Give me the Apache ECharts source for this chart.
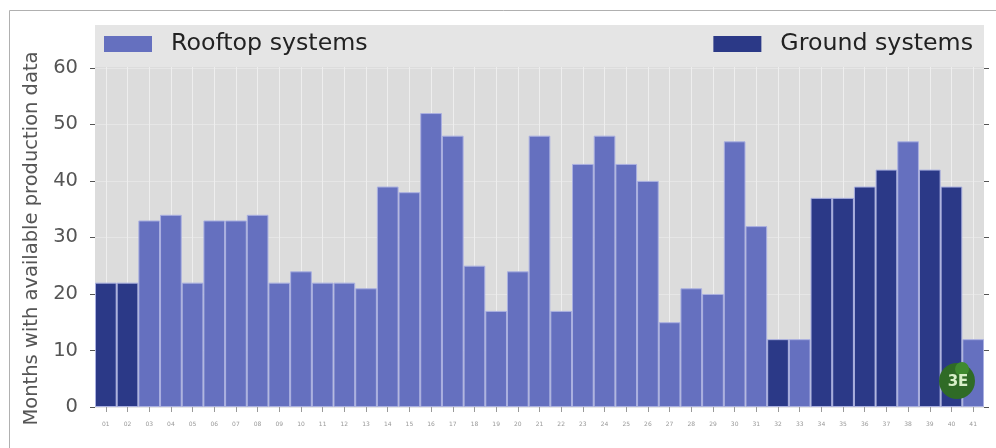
<!DOCTYPE html>
<html><head><meta charset="utf-8">
<script src="https://cdn.jsdelivr.net/npm/echarts@6/dist/echarts.min.js"></script>
<style>html,body{margin:0;padding:0;background:#fff}#c{width:996px;height:448px}</style>
</head><body><div id="c"></div>
<script>
const categories = ['01','02','03','04','05','06','07','08','09','10','11','12','13','14','15','16','17','18','19','20','21','22','23','24','25','26','27','28','29','30','31','32','33','34','35','36','37','38','39','40','41'];
const months = [22,22,33,34,22,33,33,34,22,24,22,22,21,39,38,52,48,25,17,24,48,17,43,48,43,40,15,21,20,47,32,12,12,37,37,39,42,47,42,39,12];
const systemType = ['G','G','R','R','R','R','R','R','R','R','R','R','R','R','R','R','R','R','R','R','R','R','R','R','R','R','R','R','R','R','R','G','R','G','G','G','G','R','G','G','R'];
const yTicks = [0,10,20,30,40,50,60];
const seriesNames = ['Rooftop systems','Ground systems'];

const rooftop = months.map((v,i)=> systemType[i]==='R' ? v : '-');
const ground = months.map((v,i)=> systemType[i]==='G' ? v : '-');

const FONT = 'DejaVu Sans';
const chart = echarts.init(document.getElementById('c'), null, {renderer:'canvas'});
const yCommon = {
  type:'value', min:0, max:67.4,
  axisLine:{show:false},
  splitLine:{show:false}
};
const legendCommon = {top:32, padding:0, itemWidth:48, itemHeight:16, icon:'rect',
  itemStyle:{borderWidth:0},
  textStyle:{fontFamily:FONT, fontSize:23.7, color:'#222', padding:[0,0,0,14]}};
chart.setOption({
  animation:false,
  grid:{left:95, right:12, top:26, bottom:41, show:true, backgroundColor:'#dcdcdc', borderWidth:0},
  legend:[
    Object.assign({data:[seriesNames[0]], left:104}, legendCommon),
    Object.assign({data:[seriesNames[1]], right:23}, legendCommon)
  ],
  xAxis:{
    type:'category', data:categories, boundaryGap:true,
    axisLine:{show:false},
    axisTick:{show:true, alignWithLabel:true, length:5, lineStyle:{color:'#999'}},
    axisLabel:{fontFamily:FONT, fontSize:6, color:'#999', margin:14, interval:0},
    splitLine:{show:true, alignWithLabel:true, lineStyle:{color:'#eeeeee', width:1}}
  },
  yAxis:[
    Object.assign({}, yCommon, {
      position:'left',
      name:'Months with available production data', nameLocation:'middle', nameGap:51,
      nameTextStyle:{fontFamily:FONT, fontSize:19.5, color:'#555', padding:[0,44,0,0]},
      axisTick:{show:true, length:5, lineStyle:{color:'#555'}, customValues:yTicks},
      axisLabel:{fontFamily:FONT, fontSize:19.5, color:'#555', margin:17, customValues:yTicks},
      splitLine:{show:true, lineStyle:{color:'#e6e6e6', width:1}}
    }),
    Object.assign({}, yCommon, {
      position:'right',
      axisTick:{show:true, length:5, lineStyle:{color:'#555'}, customValues:yTicks},
      axisLabel:{show:false}
    })
  ],
  series:[
    {name:seriesNames[0], type:'bar', stack:'all', data:rooftop, barCategoryGap:'0%', z:3,
     itemStyle:{color:'#6570bf', borderColor:'#aab0e0', borderWidth:1}},
    {name:seriesNames[1], type:'bar', stack:'all', data:ground, barCategoryGap:'0%', z:3,
     itemStyle:{color:'#2b3987', borderColor:'#aab0e0', borderWidth:1}}
  ],
  graphic:[
    {type:'rect', shape:{x:9.5, y:10.5, width:1200, height:800}, style:{fill:'none', stroke:'#b0b0b0', lineWidth:1}, z:1},
    {type:'rect', shape:{x:95, y:25, width:889, height:42}, style:{fill:'#e5e5e5'}, z:2},
    {type:'circle', shape:{cx:957, cy:381, r:18}, style:{fill:'#2f6b26'}, z:20},
    {type:'circle', shape:{cx:962, cy:369, r:7}, style:{fill:'#3f8a2f'}, z:20},
    {type:'text', x:958, y:382, style:{text:'3E', fill:'#d7f0c8', font:'bold 15px "DejaVu Sans"', align:'center', verticalAlign:'middle'}, z:21}
  ]
});
</script></body></html>
